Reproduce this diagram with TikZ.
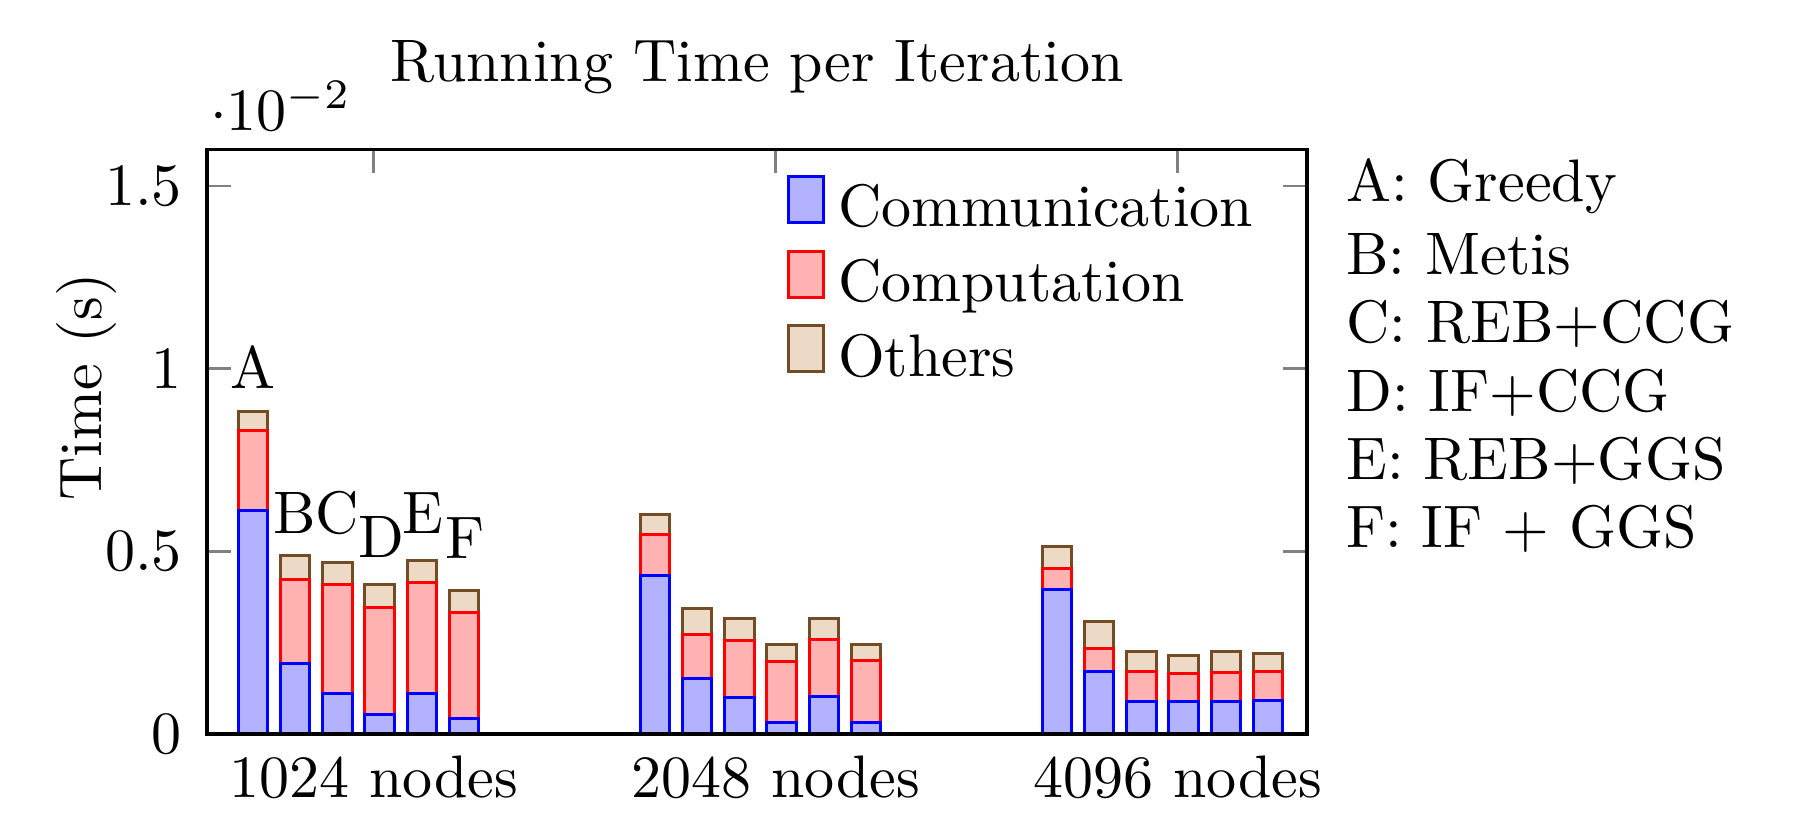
\documentclass[tikz,border=0pt]{standalone}
\usepackage{tikz}

\begin{document}
\begin{tikzpicture}[x=7.033pt, y=60.88pt,
		comm/.style={draw=blue, fill=blue!30, line width=0.5pt},
		comp/.style={draw=red, fill=red!30, line width=0.5pt},
		other/.style={draw=brown!60!black, fill=brown!30, line width=0.5pt},
		tickmark/.style={gray, line width=0.4pt},
		lab/.style={inner sep=0pt}]
		\useasboundingbox (-4.905,-0.2655) rectangle (37.678,2.0093);
		
		% ticks
		\foreach \g in {0,1,2} {
			\draw[tickmark] (3.95+9.526*\g,1.6) -- ++(0,-4pt);
			\draw[tickmark] (3.95+9.526*\g,0) -- ++(0,4pt);
		}
		\foreach \v [count=\k] in {0,0.5,1,1.5} {
			\draw[tickmark] (0,\v) -- ++(4pt,0);
			\draw[tickmark] (26.066,\v) -- ++(-4pt,0);
			\node[lab, anchor=east, xshift=-4pt] (ytick\k) at (0,\v) {$\v$};
		}
		
		% bars: group/bar/communication/computation/others (cumulative)
		\foreach \g/\i/\a/\b/\c in {
			0/0/0.613/0.832/0.884, 0/1/0.194/0.422/0.488, 0/2/0.110/0.410/0.470,
			0/3/0.052/0.346/0.409, 0/4/0.110/0.415/0.474, 0/5/0.042/0.332/0.392,
			1/0/0.433/0.547/0.602, 1/1/0.152/0.272/0.343, 1/2/0.101/0.257/0.316,
			1/3/0.032/0.199/0.244, 1/4/0.102/0.259/0.317, 1/5/0.032/0.201/0.246,
			2/0/0.395/0.454/0.513, 2/1/0.172/0.235/0.307, 2/2/0.090/0.170/0.226,
			2/3/0.088/0.166/0.214, 2/4/0.090/0.169/0.225, 2/5/0.091/0.172/0.219} {
			\pgfmathsetmacro\x{1.09+9.526*\g+\i}
			\draw[other] (\x-0.35,\b) rectangle (\x+0.35,\c);
			\draw[comp] (\x-0.35,\a) rectangle (\x+0.35,\b);
			\draw[comm] (\x-0.35,0) rectangle (\x+0.35,\a);
		}
		
		% frame
		\draw[line width=0.6pt] (0,0) rectangle (26.066,1.6);
		
		% texts
		\node[lab, anchor=base] (title) at (13.033,1.785) {Running Time per Iteration};
		\node[lab, anchor=base west] (scale) at (0.05,1.652) {$\cdot 10^{-2}$};
		\node[rotate=90] (ylabel) at (-2.867,0.950) {Time (s)};
		\foreach \g/\n in {0/1024,1/2048,2/4096}
			\node[lab, anchor=base] (grp\n) at (3.95+9.526*\g,-0.175) {\n{} nodes};
		
		\foreach \t/\x/\y in {A/1.09/0.947, B/2.085/0.549, C/3.081/0.549,
			D/4.14/0.484, E/5.12/0.549, F/6.11/0.481}
			\node[lab, anchor=base] (tag\t) at (\x,\y) {\t};
		
		% legend
		\foreach \t/\s/\y [count=\k] in {Communication/comm/1.4008, Computation/comp/1.1955, Others/other/0.9918} {
			\draw[\s] (13.768,\y) rectangle ++(5.9pt,7.7pt);
			\node[lab, anchor=base west] (leg\k) at (14.93,\y-0.012) {\t};
		}
		
		% methods
		\foreach \t/\y [count=\k] in {A: Greedy/1.4572, B: Metis/1.2565, C: REB+CCG/1.0723,
			D: IF+CCG/0.8823, E: REB+GGS/0.6953, F: IF + GGS/0.5111}
			\node[lab, anchor=base west] (meth\k) at (26.967,\y) {\t};
\end{tikzpicture}
\end{document}
